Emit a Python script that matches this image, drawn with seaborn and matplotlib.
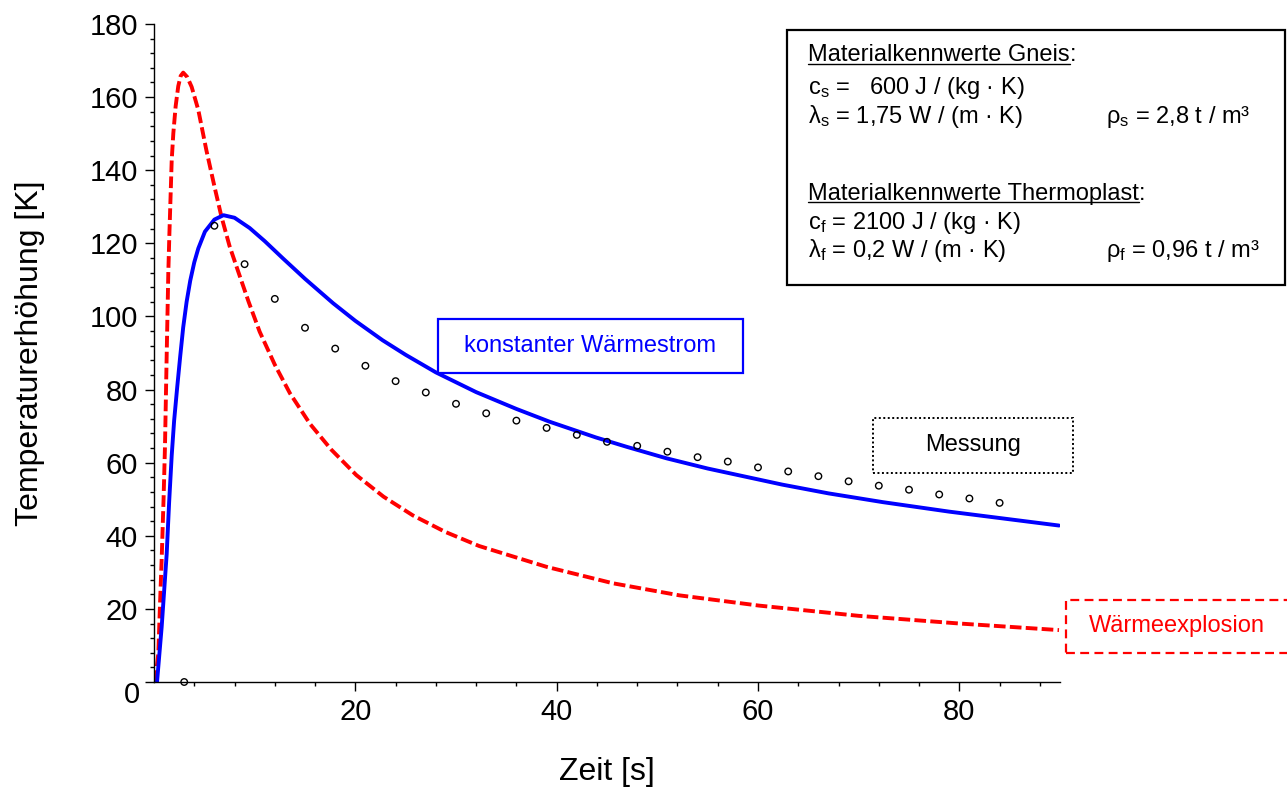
import numpy as np
import pandas as pd
import matplotlib
matplotlib.use("Agg")
import matplotlib.pyplot as plt
from matplotlib.patches import Rectangle
from matplotlib.lines import Line2D
from matplotlib.ticker import FixedLocator
import seaborn as sns

# ---------------- data ----------------
t_const = [0.3, 0.76, 1.26, 1.5, 1.76, 2.0, 2.3, 2.6, 2.9, 3.24, 3.6, 4.0, 4.4, 5.06,
           6.0, 6.9, 8.0, 9.5, 11.0, 12.8, 15.0, 17.8, 20.0, 22.7, 25.0, 28.0, 32.0,
           36.0, 39.3, 43.9, 47.0, 50.9, 55.0, 62.4, 67.0, 72.4, 79.0, 85.6, 89.9]
T_const = [0.0, 15.0, 35.0, 49.0, 62.0, 71.5, 80.5, 89.0, 97.0, 104.0, 109.8, 114.8, 118.6, 123.2,
           126.5, 127.7, 127.0, 124.2, 120.6, 115.9, 110.3, 103.6, 98.8, 93.5, 89.5, 84.7, 79.3,
           74.7, 71.2, 66.9, 64.3, 61.2, 58.4, 54.0, 51.6, 49.2, 46.6, 44.3, 42.8]

t_expl = [0.1, 0.43, 0.6, 0.76, 0.95, 1.09, 1.25, 1.42, 1.52, 1.76, 1.92, 2.15, 2.41,
          2.65, 2.9, 3.3, 3.74, 4.4, 5.2, 6.05, 6.7, 7.5, 8.4, 9.4, 10.5, 12.0, 13.5,
          15.5, 17.6, 20.1, 22.8, 25.7, 28.9, 32.3, 39.0, 45.6, 52.2, 60.1, 70.0, 80.0, 89.9]
T_expl = [0.0, 7.8, 21.5, 33.4, 50.0, 64.4, 88.0, 111.8, 121.8, 142.8, 150.1, 157.5, 163.0,
          165.8, 166.7, 165.5, 162.8, 156.5, 145.5, 135.0, 127.3, 119.3, 112.0, 104.0, 95.8, 86.8, 79.0,
          70.6, 63.6, 56.6, 50.7, 45.6, 41.1, 37.2, 31.5, 27.0, 23.7, 20.9, 18.1, 16.0, 14.2]

t_meas = [3, 6, 9, 12, 15, 18, 21, 24, 27, 30, 33, 36, 39, 42, 45, 48, 51, 54,
          57, 60, 63, 66, 69, 72, 75, 78, 81, 84]
T_meas = [0.0, 124.8, 114.3, 104.8, 96.9, 91.2, 86.5, 82.3, 79.2, 76.1, 73.5, 71.5,
          69.5, 67.6, 65.7, 64.6, 63.0, 61.5, 60.3, 58.7, 57.6, 56.3, 54.9, 53.7,
          52.6, 51.3, 50.2, 49.0]

x_major = [20, 40, 60, 80]
y_major = [0, 20, 40, 60, 80, 100, 120, 140, 160, 180]
y_labels = ["", "20", "40", "60", "80", "100", "120", "140", "160", "180"]

# ---------------- style ----------------
sns.set_style("ticks")
plt.rcParams["font.family"] = ["Liberation Sans", "DejaVu Sans"]
plt.rcParams["mathtext.fontset"] = "custom"
plt.rcParams["mathtext.rm"] = "Liberation Sans"
plt.rcParams["mathtext.it"] = "Liberation Sans:italic"
plt.rcParams["mathtext.bf"] = "Liberation Sans:bold"
for k in ["text.color", "axes.labelcolor", "xtick.color", "ytick.color", "axes.edgecolor"]:
    plt.rcParams[k] = "black"

W, H = 1287, 789
fig = plt.figure(figsize=(W / 100, H / 100), dpi=100)
fig.patch.set_facecolor("white")


def fx(x):
    return x / W


def fy(y):
    return 1 - y / H


ax = fig.add_axes([fx(154), fy(682), (1060 - 154) / W, (682 - 24) / H])
ax.set_facecolor("white")

df_c = pd.DataFrame({"t": t_const, "T": T_const})
df_e = pd.DataFrame({"t": t_expl, "T": T_expl})
df_m = pd.DataFrame({"t": t_meas, "T": T_meas})

sns.lineplot(data=df_e, x="t", y="T", ax=ax, color="#ff0000", lw=2.8,
             estimator=None, sort=False)
ax.lines[-1].set_dashes([3.0, 1.1])
ax.lines[-1].set_dash_capstyle("butt")
sns.lineplot(data=df_c, x="t", y="T", ax=ax, color="#0000ff", lw=2.8,
             estimator=None, sort=False, solid_joinstyle="round")
sns.scatterplot(data=df_m, x="t", y="T", ax=ax, marker="o", s=22,
                facecolors="none", edgecolor="black", linewidth=1.0,
                clip_on=False, zorder=5)

ax.set_xlim(0, 90)
ax.set_ylim(0, 180)
ax.xaxis.set_major_locator(FixedLocator(x_major))
ax.xaxis.set_minor_locator(FixedLocator([v for v in range(4, 90, 4) if v % 20 != 0]))
ax.yaxis.set_major_locator(FixedLocator(y_major))
ax.yaxis.set_minor_locator(FixedLocator([v for v in range(4, 180, 4) if v % 20 != 0]))
ax.set_yticklabels(y_labels)

for s in ["top", "right"]:
    ax.spines[s].set_visible(False)
for s in ["left", "bottom"]:
    ax.spines[s].set_linewidth(1.0)
    ax.spines[s].set_color("black")

ax.tick_params(which="major", length=6.5, width=1.0, direction="out",
               labelsize=21, pad=5, color="black", labelcolor="black")
ax.tick_params(which="minor", length=3.0, width=1.0, direction="out", color="black")

ax.set_xlabel("Zeit [s]", fontsize=23, color="black")
ax.set_ylabel("Temperaturerhöhung [K]", fontsize=23, color="black")
ax.xaxis.set_label_coords(0.5, -0.137)
ax.xaxis.label.set_va("center")
ax.yaxis.set_label_coords(-0.137, 0.5)
ax.yaxis.label.set_va("center")

# the origin label sits below the corner
fig.text(fx(140), fy(695), "0", fontsize=21, ha="right", va="center", color="black")

# ---------------- parameter box ----------------
fig.patches.append(Rectangle((fx(787), fy(285)), (1285 - 787) / W, (285 - 30) / H,
                             transform=fig.transFigure, fill=True, fc="white",
                             ec="black", lw=1.6, zorder=3))
fs_box = 17
x_left = fx(808)
x_rho = fx(1106)
kw = dict(fontsize=fs_box, va="baseline", zorder=4, color="black")
h1 = fig.text(x_left, fy(61), "Materialkennwerte Gneis", **kw)
fig.text(x_left, fy(94), "c$_\\mathrm{s}$ =   600 J / (kg · K)", **kw)
fig.text(x_left, fy(123.5), "λ$_\\mathrm{s}$ = 1,75 W / (m · K)", **kw)
fig.text(x_rho, fy(123.5), "ρ$_\\mathrm{s}$ = 2,8 t / m³", **kw)
h2 = fig.text(x_left, fy(200), "Materialkennwerte Thermoplast", **kw)
fig.text(x_left, fy(228.5), "c$_\\mathrm{f}$ = 2100 J / (kg · K)", **kw)
fig.text(x_left, fy(257), "λ$_\\mathrm{f}$ = 0,2 W / (m · K)", **kw)
fig.text(x_rho, fy(257), "ρ$_\\mathrm{f}$ = 0,96 t / m³", **kw)

fig.canvas.draw()
renderer = fig.canvas.get_renderer()
for h, yb in [(h1, 61), (h2, 200)]:
    bb = h.get_window_extent(renderer)
    fig.lines.append(Line2D([bb.x0 / W, bb.x1 / W], [fy(yb + 2.5), fy(yb + 2.5)],
                            transform=fig.transFigure, color="black", lw=1.0, zorder=4))
    fig.text(bb.x1 / W, fy(yb), ":", **kw)

# ---------------- curve labels ----------------
fig.patches.append(Rectangle((fx(438), fy(373)), (743 - 438) / W, (373 - 319) / H,
                             transform=fig.transFigure, fill=True, fc="white",
                             ec="#0000ff", lw=1.6, zorder=3))
fig.text(fx(590), fy(346), "konstanter Wärmestrom", fontsize=17, color="#0000ff",
         ha="center", va="center", zorder=4)

fig.patches.append(Rectangle((fx(873), fy(473)), (1073 - 873) / W, (473 - 418) / H,
                             transform=fig.transFigure, fill=True, fc="white",
                             ec="black", lw=1.4, ls=(0, (1, 1.3)), zorder=3))
fig.text(fx(973), fy(445), "Messung", fontsize=17, color="black",
         ha="center", va="center", zorder=4)

fig.patches.append(Rectangle((fx(1066), fy(653)), (1295 - 1066) / W, (653 - 600) / H,
                             transform=fig.transFigure, fill=True, fc="white",
                             ec="#ff0000", lw=1.6, ls=(0, (4, 2.4)), zorder=3))
fig.text(fx(1177), fy(626), "Wärmeexplosion", fontsize=17, color="#ff0000",
         ha="center", va="center", zorder=4)

fig.savefig("out.png", dpi=100, facecolor="white")
